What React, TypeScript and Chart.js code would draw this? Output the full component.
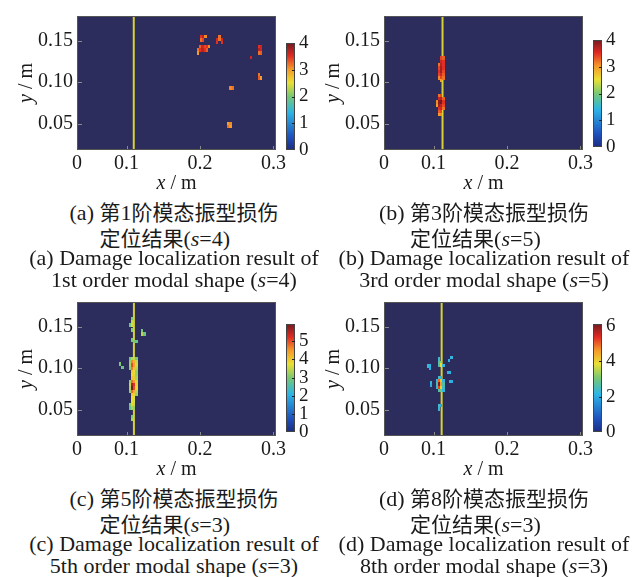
import React, { useEffect, useRef } from "react";
import { Chart, registerables } from "chart.js";

Chart.register(...registerables);

// ---------------- data ----------------
const X_MIN = 0.0325;
const X_MAX = 0.3035;
const Y_MIN = 0.0185;
const Y_MAX = 0.1795;
const X_TICKS = [0.1, 0.2, 0.3];
const Y_TICKS = [0.05, 0.1, 0.15];
const X_TITLE = ["x", " / m"];
const Y_TITLE = ["y", " / m"];
const CELL_DX = 0.003;
const CELL_DY = 0.004;

const CRACK_X_A = 0.1098;
const CRACK_X_B = 0.1122;
const CRACK_X_C = 0.11;
const CRACK_X_D = 0.111;

// [x, y, damage index]
const CELLS_A: number[][] = [
  [0.2015, 0.1545, 3.5], [0.2045, 0.1545, 3.7], [0.2075, 0.1545, 3.1],
  [0.2015, 0.1505, 3.2], [0.2045, 0.1505, 3.4],
  [0.2265, 0.1550, 3.2], [0.2235, 0.1510, 3.6], [0.2265, 0.1510, 3.2], [0.2295, 0.1510, 3.6],
  [0.2235, 0.1480, 3.5], [0.2295, 0.1480, 3.5],
  [0.2005, 0.1425, 3.3], [0.2035, 0.1425, 3.6], [0.2065, 0.1425, 3.4], [0.2095, 0.1425, 3.5], [0.2125, 0.1425, 3.1],
  [0.1975, 0.1385, 3.2], [0.2005, 0.1385, 3.5], [0.2035, 0.1385, 3.7], [0.2065, 0.1385, 3.5], [0.2095, 0.1385, 3.3],
  [0.1975, 0.1350, 3.0],
  [0.2805, 0.1425, 3.5], [0.2835, 0.1425, 3.6], [0.2805, 0.1385, 3.7], [0.2835, 0.1385, 3.6],
  [0.2805, 0.1350, 3.2], [0.2835, 0.1350, 3.3],
  [0.2690, 0.1300, 3.6],
  [0.2805, 0.1085, 3.2], [0.2805, 0.1050, 3.3], [0.2835, 0.1050, 3.0],
  [0.2415, 0.0930, 3.1], [0.2445, 0.0930, 3.2],
  [0.2385, 0.0505, 3.0], [0.2415, 0.0505, 3.1], [0.2385, 0.0470, 3.2], [0.2415, 0.0470, 3.0],
];

const CELLS_B: number[][] = [
  [0.1105, 0.1290, 3.4], [0.1135, 0.1290, 3.3],
  [0.1105, 0.1250, 3.6], [0.1135, 0.1250, 3.5],
  [0.1075, 0.1210, 3.2], [0.1105, 0.1210, 3.7], [0.1135, 0.1210, 3.5],
  [0.1075, 0.1170, 3.4], [0.1105, 0.1170, 3.8], [0.1135, 0.1170, 3.5],
  [0.1075, 0.1130, 3.5], [0.1105, 0.1130, 3.8], [0.1135, 0.1130, 3.4],
  [0.1075, 0.1090, 3.4], [0.1105, 0.1090, 3.6], [0.1135, 0.1090, 3.3],
  [0.1075, 0.1050, 3.1], [0.1105, 0.1050, 3.4], [0.1135, 0.1050, 3.2],
  [0.1105, 0.1020, 3.0],
  [0.1075, 0.0840, 3.2], [0.1105, 0.0840, 3.4],
  [0.1075, 0.0800, 3.6], [0.1105, 0.0800, 3.7], [0.1135, 0.0800, 3.3],
  [0.1045, 0.0760, 3.1], [0.1075, 0.0760, 3.9], [0.1105, 0.0760, 4.0], [0.1135, 0.0760, 3.5],
  [0.1045, 0.0720, 3.0], [0.1075, 0.0720, 3.8], [0.1105, 0.0720, 3.7], [0.1135, 0.0720, 3.4],
  [0.1075, 0.0680, 3.5], [0.1105, 0.0680, 3.6], [0.1135, 0.0680, 3.2],
  [0.1075, 0.0640, 3.3], [0.1105, 0.0640, 3.4],
  [0.1075, 0.0610, 3.0], [0.1105, 0.0610, 3.1],
];

const CELLS_C: number[][] = [
  [0.1075, 0.1600, 3.0], [0.1075, 0.1560, 3.5], [0.1045, 0.1520, 2.9], [0.1075, 0.1520, 3.6],
  [0.1075, 0.1460, 3.1],
  [0.1215, 0.1450, 2.9], [0.1215, 0.1410, 3.4], [0.1245, 0.1410, 2.8],
  [0.1075, 0.1340, 3.0], [0.1105, 0.1320, 3.0], [0.1135, 0.1320, 2.8],
  [0.1045, 0.1120, 2.9], [0.1075, 0.1120, 3.4], [0.1105, 0.1120, 3.5], [0.1135, 0.1120, 3.0],
  [0.1045, 0.1080, 3.2], [0.1075, 0.1080, 4.6], [0.1105, 0.1080, 4.2], [0.1135, 0.1080, 3.5],
  [0.1045, 0.1040, 3.3], [0.1075, 0.1040, 5.0], [0.1105, 0.1040, 4.4], [0.1135, 0.1040, 3.6],
  [0.1045, 0.1000, 3.1], [0.1075, 0.1000, 4.7], [0.1105, 0.1000, 4.0], [0.1135, 0.1000, 3.4],
  [0.1075, 0.0960, 4.0], [0.1105, 0.0960, 3.8], [0.1135, 0.0960, 3.2],
  [0.1075, 0.0920, 3.8], [0.1105, 0.0920, 3.9], [0.1135, 0.0920, 3.2],
  [0.1075, 0.0880, 4.0], [0.1105, 0.0880, 4.0], [0.1135, 0.0880, 3.3],
  [0.1045, 0.0840, 3.2], [0.1075, 0.0840, 4.8], [0.1105, 0.0840, 4.5], [0.1135, 0.0840, 3.6],
  [0.1045, 0.0800, 3.5], [0.1075, 0.0800, 5.6], [0.1105, 0.0800, 5.2], [0.1135, 0.0800, 3.9],
  [0.1045, 0.0760, 3.4], [0.1075, 0.0760, 5.9], [0.1105, 0.0760, 5.0], [0.1135, 0.0760, 3.8],
  [0.1045, 0.0720, 3.2], [0.1075, 0.0720, 4.8], [0.1105, 0.0720, 4.3], [0.1135, 0.0720, 3.4],
  [0.1075, 0.0680, 4.0], [0.1105, 0.0680, 3.9], [0.1135, 0.0680, 3.2],
  [0.1075, 0.0640, 3.8], [0.1105, 0.0640, 3.7],
  [0.1075, 0.0600, 3.7], [0.1105, 0.0600, 3.6],
  [0.1045, 0.0560, 3.0], [0.1075, 0.0560, 3.9], [0.1105, 0.0560, 3.5],
  [0.1045, 0.0520, 2.8], [0.1075, 0.0520, 3.3], [0.1105, 0.0520, 3.2],
  [0.0915, 0.1050, 3.0], [0.0945, 0.1010, 2.9],
  [0.1075, 0.0420, 3.0], [0.1075, 0.0380, 3.3],
];

const CELLS_D: number[][] = [
  [0.1075, 0.1110, 2.3], [0.1075, 0.1070, 2.7], [0.1105, 0.1070, 3.2],
  [0.1105, 0.1040, 3.9], [0.1075, 0.1030, 2.5], [0.1135, 0.1030, 2.2],
  [0.0925, 0.1025, 2.3], [0.0955, 0.1025, 2.1], [0.0955, 0.0995, 2.0],
  [0.1245, 0.1125, 2.2], [0.1215, 0.1095, 2.1],
  [0.1195, 0.0945, 2.2], [0.1225, 0.0945, 2.1],
  [0.1075, 0.0890, 2.4], [0.1105, 0.0890, 2.2],
  [0.1045, 0.0850, 2.3], [0.1075, 0.0850, 5.0], [0.1105, 0.0850, 4.2], [0.1135, 0.0850, 2.2],
  [0.1045, 0.0810, 2.5], [0.1075, 0.0810, 6.0], [0.1105, 0.0810, 4.6], [0.1135, 0.0810, 2.6],
  [0.1045, 0.0770, 2.3], [0.1075, 0.0770, 5.2], [0.1105, 0.0770, 4.0], [0.1135, 0.0770, 2.4],
  [0.1075, 0.0730, 2.6], [0.1105, 0.0730, 3.0], [0.1135, 0.0730, 2.2],
  [0.1225, 0.0840, 2.2], [0.1255, 0.0840, 2.0],
  [0.0965, 0.0830, 2.2], [0.0965, 0.0790, 2.0],
  [0.1075, 0.0550, 2.4], [0.1075, 0.0510, 2.2], [0.1105, 0.0550, 2.0],
];

const CB_TICKS_A = [0, 1, 2, 3, 4];
const CB_TICKS_B = [0, 1, 2, 3, 4];
const CB_TICKS_C = [0, 1, 2, 3, 4, 5];
const CB_TICKS_D = [0, 2, 4, 6];
const CB_MAX_A = 4.0;
const CB_MAX_B = 4.0;
const CB_MAX_C = 5.95;
const CB_MAX_D = 6.1;

const CAPTIONS = [
  { tag: "(a) ", zh1: ["第", "1", "阶模态振型损伤"], zh2: "定位结果", s: "4", en1: "(a) Damage localization result of", en2: "1st order modal shape (" },
  { tag: "(b) ", zh1: ["第", "3", "阶模态振型损伤"], zh2: "定位结果", s: "5", en1: "(b) Damage localization result of", en2: "3rd order modal shape (" },
  { tag: "(c) ", zh1: ["第", "5", "阶模态振型损伤"], zh2: "定位结果", s: "3", en1: "(c) Damage localization result of", en2: "5th order modal shape (" },
  { tag: "(d) ", zh1: ["第", "8", "阶模态振型损伤"], zh2: "定位结果", s: "3", en1: "(d) Damage localization result of", en2: "8th order modal shape (" },
];

// ---------------- styling ----------------
const BG = "rgb(44,45,92)";
const CRACK_COLOR = "rgb(214,210,52)";
const SERIF = '"Liberation Serif", "Times New Roman", serif';
const CMAP: [number, number[]][] = [
  [0.0, [28, 44, 128]],
  [0.12, [30, 80, 188]],
  [0.35, [45, 180, 230]],
  [0.5, [120, 200, 115]],
  [0.63, [234, 224, 52]],
  [0.76, [244, 150, 42]],
  [0.88, [224, 42, 36]],
  [1.0, [115, 26, 30]],
];

function cmap(t: number): string {
  const v = Math.max(0, Math.min(1, t));
  for (let i = 1; i < CMAP.length; i++) {
    const [t1, c1] = CMAP[i];
    const [t0, c0] = CMAP[i - 1];
    if (v <= t1) {
      const f = (v - t0) / (t1 - t0);
      const c = c0.map((a, k) => Math.round(a + (c1[k] - a) * f));
      return `rgb(${c[0]},${c[1]},${c[2]})`;
    }
  }
  const c = CMAP[CMAP.length - 1][1];
  return `rgb(${c[0]},${c[1]},${c[2]})`;
}

function drawMixed(ctx: CanvasRenderingContext2D, parts: string[], cx: number, cy: number, size: number) {
  const fI = `italic ${size}px ${SERIF}`;
  const fN = `${size}px ${SERIF}`;
  ctx.font = fI;
  const w1 = ctx.measureText(parts[0]).width;
  ctx.font = fN;
  const w2 = ctx.measureText(parts[1]).width;
  const x0 = cx - (w1 + w2) / 2;
  ctx.textAlign = "left";
  ctx.textBaseline = "middle";
  ctx.font = fI;
  ctx.fillText(parts[0], x0, cy);
  ctx.font = fN;
  ctx.fillText(parts[1], x0 + w1, cy);
}

const heatPlugin = {
  id: "heat",
  beforeDatasetsDraw(chart: any, _a: any, o: any) {
    const { ctx, chartArea: a } = chart;
    ctx.save();
    ctx.fillStyle = BG;
    ctx.fillRect(a.left, a.top, a.right - a.left, a.bottom - a.top);
    ctx.restore();
  },
  afterDatasetsDraw(chart: any, _a: any, o: any) {
    const { ctx, chartArea: a } = chart;
    const xs = chart.scales.x;
    const ys = chart.scales.y;
    const cells = chart.data.datasets[1].data;
    ctx.save();
    ctx.beginPath();
    ctx.rect(a.left, a.top, a.right - a.left, a.bottom - a.top);
    ctx.clip();
    for (const c of cells) {
      const x0 = Math.round(xs.getPixelForValue(c.x - CELL_DX / 2));
      const x1 = Math.round(xs.getPixelForValue(c.x + CELL_DX / 2));
      const y0 = Math.round(ys.getPixelForValue(c.y + CELL_DY / 2));
      const y1 = Math.round(ys.getPixelForValue(c.y - CELL_DY / 2));
      ctx.fillStyle = cmap((c.v - o.cbMin) / (o.cbMax - o.cbMin));
      ctx.fillRect(x0, y0, x1 - x0, y1 - y0);
    }
    ctx.restore();

    // inner tick marks and frame
    ctx.save();
    ctx.strokeStyle = "#8a8a8a";
    ctx.lineWidth = 1;
    ctx.beginPath();
    for (const v of X_TICKS) {
      const px = Math.round(xs.getPixelForValue(v)) + 0.5;
      ctx.moveTo(px, a.bottom);
      ctx.lineTo(px, a.bottom - 4);
    }
    for (const v of Y_TICKS) {
      const py = Math.round(ys.getPixelForValue(v)) + 0.5;
      ctx.moveTo(a.left, py);
      ctx.lineTo(a.left + 5, py);
    }
    ctx.stroke();
    ctx.strokeStyle = "#555";
    ctx.strokeRect(a.left + 0.5, a.top + 0.5, a.right - a.left - 1, a.bottom - a.top - 1);
    ctx.restore();

    // colorbar
    ctx.save();
    const cbL = o.cbLeft;
    const cbR = o.cbLeft + o.cbWidth;
    const cbT = o.cbTop;
    const cbB = o.cbBottom;
    const g = ctx.createLinearGradient(0, cbB, 0, cbT);
    for (const [t, c] of CMAP) g.addColorStop(t, `rgb(${c[0]},${c[1]},${c[2]})`);
    ctx.fillStyle = g;
    ctx.fillRect(cbL, cbT, cbR - cbL, cbB - cbT);
    ctx.strokeStyle = "#444";
    ctx.lineWidth = 1;
    ctx.strokeRect(cbL + 0.5, cbT + 0.5, cbR - cbL - 1, cbB - cbT - 1);
    ctx.fillStyle = "#1a1a1a";
    ctx.font = `${o.cbFont}px ${SERIF}`;
    ctx.textAlign = "left";
    ctx.textBaseline = "middle";
    ctx.beginPath();
    for (const v of o.cbTicks) {
      const y = cbB - ((v - o.cbMin) / (o.cbMax - o.cbMin)) * (cbB - cbT);
      const yy = Math.round(y) + 0.5;
      if (v !== o.cbMin && y > cbT + 2) {
        ctx.moveTo(cbR - 3, yy);
        ctx.lineTo(cbR, yy);
      }
      ctx.fillText(String(v), cbR + 4, y);
    }
    ctx.strokeStyle = "#222";
    ctx.stroke();
    ctx.restore();

    // axis titles
    ctx.save();
    ctx.fillStyle = "#1a1a1a";
    drawMixed(ctx, X_TITLE, (a.left + a.right) / 2, a.bottom + 34, 20);
    ctx.translate(27, (a.top + a.bottom) / 2);
    ctx.rotate(-Math.PI / 2);
    drawMixed(ctx, Y_TITLE, 0, 0, 20);
    ctx.restore();
  },
};

type PanelCfg = {
  left: number;
  top: number;
  cells: number[][];
  crackX: number;
  cbTicks: number[];
  cbMax: number;
  cbTop: number;
  cbBottom: number;
};

const PANELS: PanelCfg[] = [
  { left: 0, top: 0, cells: CELLS_A, crackX: CRACK_X_A, cbTicks: CB_TICKS_A, cbMax: CB_MAX_A, cbTop: 43, cbBottom: 150 },
  { left: 307, top: 0, cells: CELLS_B, crackX: CRACK_X_B, cbTicks: CB_TICKS_B, cbMax: CB_MAX_B, cbTop: 40, cbBottom: 147 },
  { left: 0, top: 286, cells: CELLS_C, crackX: CRACK_X_C, cbTicks: CB_TICKS_C, cbMax: CB_MAX_C, cbTop: 38, cbBottom: 146 },
  { left: 307, top: 286, cells: CELLS_D, crackX: CRACK_X_D, cbTicks: CB_TICKS_D, cbMax: CB_MAX_D, cbTop: 38, cbBottom: 146 },
];

const tickFont = { family: SERIF, size: 20 };

function Panel({ cfg }: { cfg: PanelCfg }) {
  const ref = useRef<HTMLCanvasElement>(null);
  useEffect(() => {
    const chart = new Chart(ref.current as HTMLCanvasElement, {
      type: "scatter",
      data: {
        datasets: [
          {
            data: [
              { x: cfg.crackX, y: Y_MIN },
              { x: cfg.crackX, y: Y_MAX },
            ],
            showLine: true,
            borderColor: CRACK_COLOR,
            borderWidth: 2,
            pointRadius: 0,
          },
          {
            data: cfg.cells.map(([x, y, v]) => ({ x, y, v })) as any,
            showLine: false,
            pointRadius: 0,
          },
        ],
      },
      options: {
        responsive: false,
        animation: false,
        events: [],
        layout: { padding: { top: 13, right: 44, left: 0, bottom: 0 } },
        plugins: {
          legend: { display: false },
          tooltip: { enabled: false },
          heat: {
            cbMin: 0,
            cbMax: cfg.cbMax,
            cbTicks: cfg.cbTicks,
            cbTop: cfg.cbTop,
            cbBottom: cfg.cbBottom,
            cbLeft: 286,
            cbWidth: 9,
            cbFont: 19,
          },
        } as any,
        scales: {
          x: {
            type: "linear",
            min: X_MIN,
            max: X_MAX,
            grid: { display: false, drawTicks: false },
            border: { display: false },
            afterBuildTicks: (s: any) => {
              s.ticks = [X_MIN, ...X_TICKS].map((v) => ({ value: v }));
            },
            afterFit: (s: any) => {
              s.height = 40;
            },
            ticks: {
              font: tickFont,
              color: "#1a1a1a",
              padding: 2,
              maxRotation: 0,
              autoSkip: false,
              callback: (v: any) => (v === X_MIN ? "0" : String(v)),
            },
          },
          y: {
            type: "linear",
            min: Y_MIN,
            max: Y_MAX,
            grid: { display: false, drawTicks: false },
            border: { display: false },
            afterBuildTicks: (s: any) => {
              s.ticks = Y_TICKS.map((v) => ({ value: v }));
            },
            afterFit: (s: any) => {
              s.width = 77;
            },
            ticks: {
              font: tickFont,
              color: "#1a1a1a",
              padding: 4,
              autoSkip: false,
              callback: (v: any) => Number(v).toFixed(2),
            },
          },
        } as any,
      },
      plugins: [heatPlugin],
    });
    return () => chart.destroy();
  }, []);
  return (
    <canvas
      ref={ref}
      width={320}
      height={190}
      style={{ position: "absolute", left: cfg.left, top: cfg.top }}
    />
  );
}

const CJK: React.CSSProperties = { fontFamily: '"Noto Sans CJK SC", sans-serif', fontSize: 21 };

function Caption({ idx, cx, cy }: { idx: number; cx: number; cy: number }) {
  const c = CAPTIONS[idx];
  return (
    <>
      <div
        style={{
          position: "absolute",
          left: cx,
          top: cy - 12,
          transform: "translateX(-50%)",
          whiteSpace: "nowrap",
          lineHeight: "24px",
          fontSize: 22,
          fontFamily: SERIF,
          color: "#1a1a1a",
        }}
      >
        <div>
          {c.tag}
          <span style={CJK}>{c.zh1[0]}</span>
          {c.zh1[1]}
          <span style={CJK}>{c.zh1[2]}</span>
        </div>
        <div>
          <span style={{ visibility: "hidden" }}>{c.tag}</span>
          <span style={CJK}>{c.zh2}</span>(<i>s</i>={c.s})
        </div>
      </div>
      <div
        style={{
          position: "absolute",
          left: cx,
          top: cy + 47 - 11,
          transform: "translateX(-50%)",
          whiteSpace: "nowrap",
          textAlign: "center",
          lineHeight: "22px",
          fontSize: 22,
          fontFamily: SERIF,
          color: "#1a1a1a",
        }}
      >
        <div>{c.en1}</div>
        <div>
          {c.en2}
          <i>s</i>={c.s})
        </div>
      </div>
    </>
  );
}

export default function App() {
  return (
    <div
      style={{
        position: "absolute",
        left: 0,
        top: 0,
        width: 640,
        height: 577,
        background: "#fff",
        overflow: "hidden",
      }}
    >
      {PANELS.map((p, i) => (
        <Panel key={i} cfg={p} />
      ))}
      <Caption idx={0} cx={174} cy={211} />
      <Caption idx={1} cx={484} cy={211} />
      <Caption idx={2} cx={174} cy={497} />
      <Caption idx={3} cx={484} cy={497} />
    </div>
  );
}
